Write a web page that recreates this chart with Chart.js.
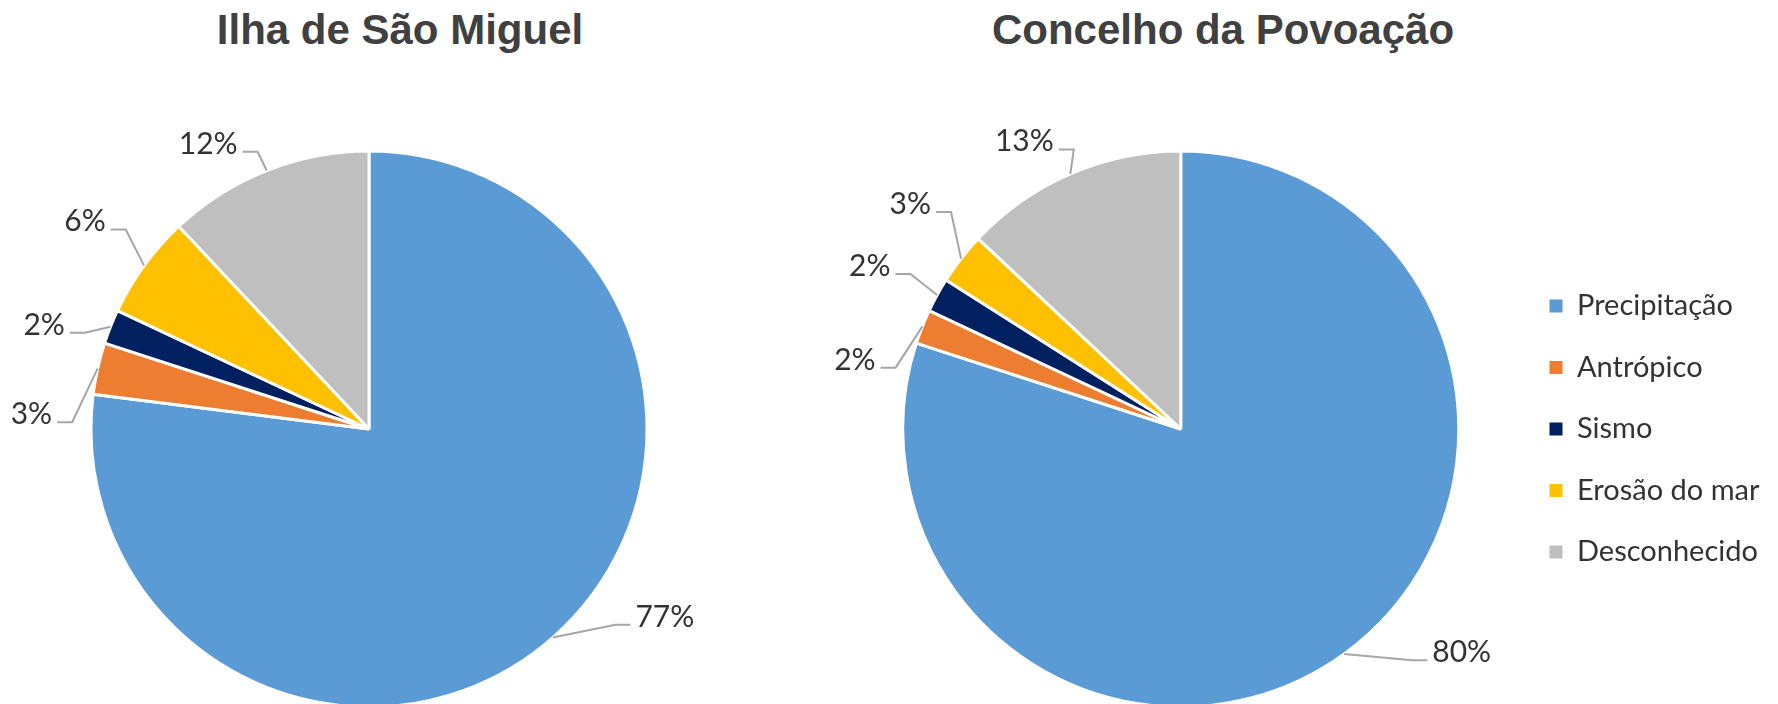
<!DOCTYPE html>
<html lang="pt">
<head>
<meta charset="utf-8">
<title>Causas dos movimentos de vertente</title>
<script src="https://cdn.jsdelivr.net/npm/chart.js@4.4.1/dist/chart.umd.min.js"></script>
<style>
  html, body { margin: 0; padding: 0; background: #fff; }
  body { width: 1778px; height: 704px; position: relative; overflow: hidden; }
  .titulo {
    position: absolute; top: 9px; margin: 0;
    font: bold 42px/42px 'Liberation Sans', Arial, sans-serif;
    color: #404040; white-space: nowrap;
    transform: translateX(-50%);
  }
  canvas { position: absolute; top: 0; }
</style>
</head>
<body>
<h2 class="titulo" style="left: 400px">Ilha de São Miguel</h2>
<h2 class="titulo" style="left: 1223px">Concelho da Povoação</h2>
<canvas id="pieIlha" width="760" height="704" style="left: 0"></canvas>
<canvas id="piePovoacao" width="958" height="704" style="left: 820px"></canvas>

<script>
/* ─── Dados ─── */
const categorias = ['Precipitação', 'Antrópico', 'Sismo', 'Erosão do mar', 'Desconhecido'];
const valoresIlha = [77, 3, 2, 6, 12];
const valoresPovoacao = [80, 2, 2, 3, 13];

/* ─── Estilo ─── */
const CORES = ['#5B9BD5', '#ED7D31', '#002060', '#FFC000', '#BFBFBF'];
const FONTE = "Lato, 'Open Sans', sans-serif";
const TEXTO = '#333333';

/* ─── Rótulos exteriores com linha de chamada ─── */
const calloutPlugin = {
  id: 'callouts',
  afterDatasetsDraw(chart, args, opts) {
    const { ctx } = chart;
    const meta = chart.getDatasetMeta(0);
    const values = chart.data.datasets[0].data;
    ctx.save();
    ctx.font = `${opts.size}px ${FONTE}`;
    meta.data.forEach((arc, i) => {
      const { x, y, startAngle, endAngle, outerRadius } =
        arc.getProps(['x', 'y', 'startAngle', 'endAngle', 'outerRadius'], true);
      const mid = (startAngle + endAngle) / 2;
      const cos = Math.cos(mid), sin = Math.sin(mid);
      const shift = opts.shift[i] || [0, 0];
      const ax = x + cos * outerRadius;
      const ay = y + sin * outerRadius;
      const ex = x + cos * (outerRadius + opts.gap) + shift[0];
      const ey = y + sin * (outerRadius + opts.gap) + shift[1];
      const dir = ex < x ? -1 : 1;
      const lx = ex + dir * opts.tail;

      ctx.strokeStyle = opts.lineColor;
      ctx.lineWidth = opts.lineWidth;
      ctx.beginPath();
      ctx.moveTo(ax, ay);
      ctx.lineTo(ex, ey);
      ctx.lineTo(lx, ey);
      ctx.stroke();

      ctx.fillStyle = opts.color;
      ctx.textAlign = dir < 0 ? 'right' : 'left';
      ctx.textBaseline = 'alphabetic';
      ctx.fillText(values[i] + '%', lx + dir * 5, ey + 2);
    });
    ctx.restore();
  }
};

function criarPie(id, valores, opcoes) {
  return new Chart(document.getElementById(id), {
    type: 'pie',
    data: {
      labels: categorias,
      datasets: [{
        data: valores,
        backgroundColor: CORES,
        borderColor: '#ffffff',
        borderWidth: 3,
        radius: 278,
        clip: false,
      }],
    },
    options: {
      responsive: false,
      animation: false,
      events: [],
      layout: { padding: opcoes.padding },
      plugins: {
        tooltip: { enabled: false },
        legend: opcoes.legend,
        callouts: {
          size: 30,
          color: TEXTO,
          lineColor: '#A6A6A6',
          lineWidth: 2,
          gap: 19,
          tail: 15,
          shift: opcoes.shift,
        },
      },
    },
    plugins: [calloutPlugin],
  });
}

criarPie('pieIlha', valoresIlha, {
  padding: { left: 0, right: 22, top: 154, bottom: 0 },
  legend: { display: false },
  shift: [[50, -27], [-7, 58], [-8, 13], [-3, -25], [-2, -1]],
});

criarPie('piePovoacao', valoresPovoacao, {
  padding: { left: 24.5, right: 8.5, top: 154, bottom: 0 },
  legend: {
    display: true,
    position: 'right',
    labels: {
      boxWidth: 13,
      boxHeight: 13,
      padding: 32.5,
      color: TEXTO,
      font: { family: FONTE, size: 29 },
      generateLabels(chart) {
        return Chart.overrides.pie.plugins.legend.labels.generateLabels(chart)
          .map(item => ({ ...item, lineWidth: 0 }));
      },
    },
  },
  shift: [[57, -9], [-9, 48], [-10, -12], [5, -35], [11, -7]],
});
</script>
</body>
</html>
